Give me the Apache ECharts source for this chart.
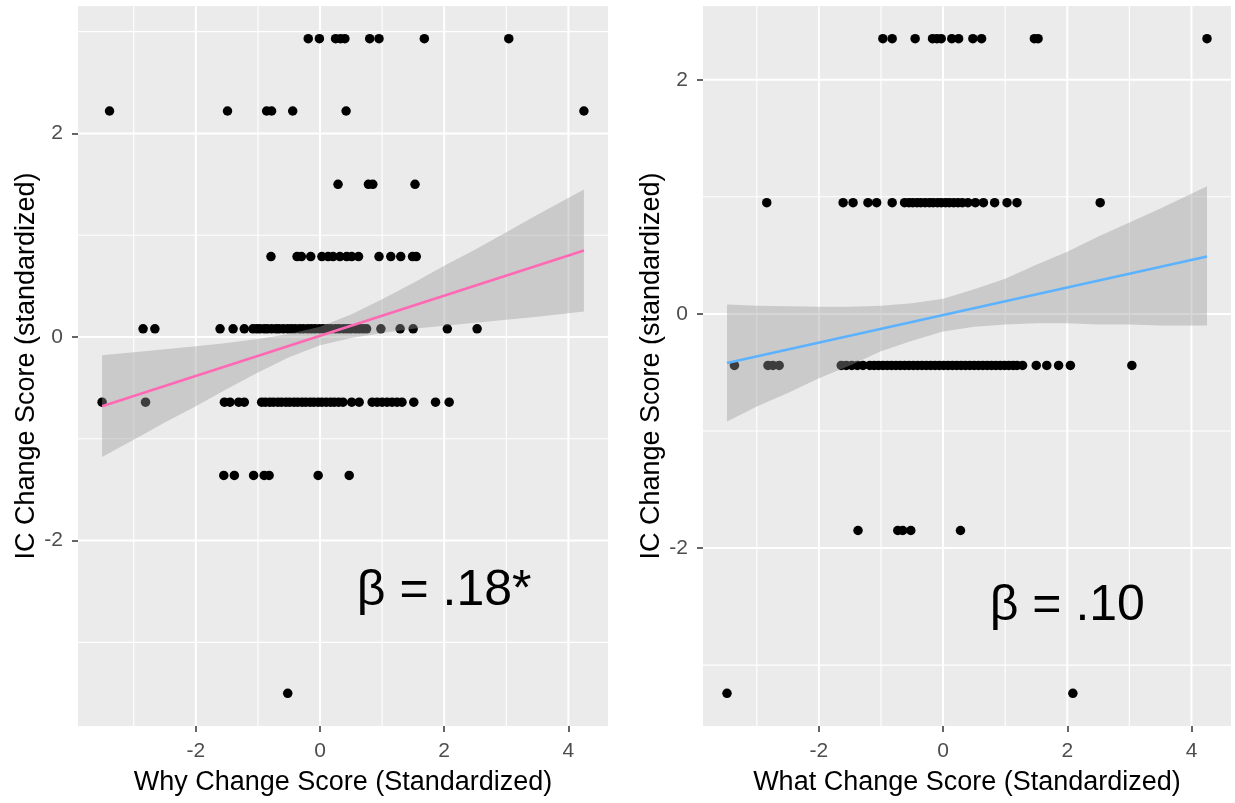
<!DOCTYPE html>
<html>
<head>
<meta charset="utf-8">
<script src="https://cdn.jsdelivr.net/npm/echarts@6/dist/echarts.min.js"></script>
<style>
  html, body { margin: 0; padding: 0; background: #ffffff; }
  #chart { width: 1235px; height: 803px; }
</style>
</head>
<body>
<div id="chart"></div>
<script>
// IC change score against the "why" and "what" change scores (all standardized),
// each panel with a linear fit and its 95% confidence band.

// ---- Left panel: Why Change Score ----
const whyLevels = [2.93, 2.22, 1.50, 0.79, 0.08, -0.64, -1.36, -3.50];
const whyXByLevel = [
  [-0.19, -0.01, 0.25, 0.33, 0.40, 0.80, 0.95, 1.68, 3.04],
  [-3.39, -1.49, -0.86, -0.78, -0.44, 0.42, 4.25],
  [0.29, 0.78, 0.85, 1.53],
  [-0.79, -0.37, -0.30, -0.15, 0.03, 0.13, 0.21, 0.32, 0.43, 0.51, 0.62, 0.95, 1.14, 1.30, 1.49, 1.55],
  [-2.85, -2.66, -1.61, -1.40, -1.22, -1.08, -1.02, -0.97, -0.90, -0.85, -0.78, -0.71, -0.66, -0.59, -0.52,
   -0.46, -0.40, -0.33, -0.27, -0.20, -0.14, -0.08, -0.01, 0.05, 0.12, 0.18, 0.25, 0.31, 0.38, 0.44, 0.50,
   0.57, 0.63, 0.69, 0.75, 0.98, 1.29, 1.50, 2.05, 2.53],
  [-3.51, -2.81, -1.54, -1.45, -1.31, -1.22, -0.94, -0.88, -0.81, -0.75, -0.68, -0.62, -0.55, -0.49, -0.42,
   -0.36, -0.29, -0.23, -0.16, -0.10, -0.03, 0.03, 0.10, 0.17, 0.23, 0.30, 0.37, 0.51, 0.63, 0.84, 0.92,
   1.00, 1.08, 1.16, 1.24, 1.32, 1.51, 1.86, 2.08],
  [-1.55, -1.38, -1.07, -0.90, -0.82, -0.03, 0.47],
  [-0.52]
];
const whyFitX = [-3.51, 4.25];
const whyFitY = [-0.68, 0.85];
const whyBandX = [-3.51, -3, -2.5, -2, -1.5, -1, -0.5, 0, 0.5, 1, 1.5, 2, 2.5, 3, 3.5, 4.25];
const whyBandUpper = [-0.18, -0.15, -0.12, -0.09, -0.06, -0.02, 0.03, 0.10, 0.22, 0.37, 0.53, 0.70, 0.86, 1.03, 1.20, 1.45];
const whyBandLower = [-1.18, -1.01, -0.84, -0.68, -0.51, -0.35, -0.20, -0.08, -0.01, 0.04, 0.08, 0.11, 0.14, 0.17, 0.20, 0.25];
const whyLabel = 'β = .18*';
const whyLabelAt = [2, -2.5];

// ---- Right panel: What Change Score ----
const whatLevels = [2.35, 0.95, -0.44, -1.85, -3.24];
const whatXByLevel = [
  [-0.97, -0.82, -0.45, -0.17, -0.10, -0.03, 0.14, 0.25, 0.48, 0.62, 1.47, 1.53, 4.25],
  [-2.84, -1.61, -1.45, -1.21, -1.07, -0.82, -0.62, -0.55, -0.49, -0.42, -0.36, -0.29, -0.22, -0.16, -0.09,
   -0.03, 0.04, 0.10, 0.17, 0.24, 0.31, 0.40, 0.52, 0.65, 0.83, 1.03, 1.19, 2.53],
  [-3.36, -2.82, -2.74, -2.64, -1.64, -1.56, -1.47, -1.38, -1.29, -1.18, -1.11, -1.04, -0.97, -0.90, -0.83,
   -0.76, -0.69, -0.62, -0.55, -0.48, -0.41, -0.34, -0.27, -0.20, -0.13, -0.06, 0.01, 0.08, 0.15, 0.22,
   0.29, 0.36, 0.43, 0.50, 0.57, 0.64, 0.71, 0.78, 0.85, 0.92, 0.99, 1.06, 1.13, 1.19, 1.28, 1.50, 1.67,
   1.86, 2.05, 3.04],
  [-1.37, -0.73, -0.65, -0.52, 0.28],
  [-3.48, 2.09]
];
const whatFitX = [-3.48, 4.25];
const whatFitY = [-0.42, 0.49];
const whatBandX = [-3.48, -3, -2.5, -2, -1.5, -1, -0.5, 0, 0.5, 1, 1.5, 2, 2.5, 3, 3.5, 4.25];
const whatBandUpper = [0.08, 0.07, 0.065, 0.06, 0.06, 0.07, 0.09, 0.13, 0.21, 0.30, 0.42, 0.53, 0.66, 0.78, 0.90, 1.09];
const whatBandLower = [-0.92, -0.79, -0.675, -0.55, -0.44, -0.32, -0.23, -0.15, -0.11, -0.09, -0.08, -0.08, -0.09, -0.09, -0.10, -0.10];
const whatLabel = 'β = .10';
const whatLabelAt = [2, -2.5];

// ---- Axis ticks and titles ----
const xMajorTicks = [-2, 0, 2, 4];
const xMinorTicks = [-3, -1, 1, 3];
const yMajorTicks = [-2, 0, 2];
const yMinorTicks = [-3, -1, 1, 3];
const whyXTitle = 'Why Change Score (Standardized)';
const whatXTitle = 'What Change Score (Standardized)';
const yTitle = 'IC Change Score (standardized)';

// ---- Styling ----
const FONT = '"Liberation Sans", Arial, sans-serif';
const PANEL_BG = '#EBEBEB';
const TICK_TEXT = '#4D4D4D';
const BAND_FILL = 'rgba(153,153,153,0.4)';
const WHY_LINE = '#FF69B4';
const WHAT_LINE = '#5CB2FF';

// Data range widened by 5% on each side (ggplot-style continuous scale)
function expandRange(values) {
  const lo = Math.min(...values), hi = Math.max(...values);
  const pad = (hi - lo) * 0.05;
  return [lo - pad, hi + pad];
}

function toPoints(levels, xByLevel) {
  const pts = [];
  levels.forEach((y, i) => xByLevel[i].forEach(x => pts.push([x, y])));
  return pts;
}

const whyPoints = toPoints(whyLevels, whyXByLevel);
const whatPoints = toPoints(whatLevels, whatXByLevel);
const whyXRange = expandRange(whyPoints.map(p => p[0]));
const whyYRange = expandRange(whyPoints.map(p => p[1]));
const whatXRange = expandRange(whatPoints.map(p => p[0]));
const whatYRange = expandRange(whatPoints.map(p => p[1]));

function inRange(ticks, r) { return ticks.filter(t => t >= r[0] && t <= r[1]); }

function xAxisFor(idx, range, title) {
  return {
    type: 'value', gridIndex: idx, min: range[0], max: range[1],
    name: title, nameLocation: 'middle', nameGap: 43,
    nameTextStyle: { fontFamily: FONT, fontSize: 27, color: '#000000' },
    axisLine: { show: false, onZero: false },
    axisTick: { show: true, length: 6, customValues: xMajorTicks, lineStyle: { color: '#333333', width: 1.5 } },
    axisLabel: { customValues: xMajorTicks, margin: 15, fontFamily: FONT, fontSize: 21, color: TICK_TEXT },
    splitLine: { show: false }
  };
}

function yAxisFor(idx, range) {
  return {
    type: 'value', gridIndex: idx, min: range[0], max: range[1],
    name: yTitle, nameLocation: 'middle', nameGap: 36, nameRotate: 90,
    nameTextStyle: { fontFamily: FONT, fontSize: 27, color: '#000000' },
    axisLine: { show: false, onZero: false },
    axisTick: { show: true, length: 6, customValues: yMajorTicks, lineStyle: { color: '#333333', width: 1.5 } },
    axisLabel: { customValues: yMajorTicks, margin: 15, fontFamily: FONT, fontSize: 21, color: TICK_TEXT },
    splitLine: { show: false }
  };
}

// White panel grid lines drawn through the axis scales
function gridLines(idx, xRange, yRange) {
  const items = [];
  inRange(xMinorTicks, xRange).forEach(v => items.push([v, yRange[0], 0, 1.1]));
  inRange(yMinorTicks, yRange).forEach(v => items.push([xRange[0], v, 1, 1.1]));
  inRange(xMajorTicks, xRange).forEach(v => items.push([v, yRange[0], 0, 2]));
  inRange(yMajorTicks, yRange).forEach(v => items.push([xRange[0], v, 1, 2]));
  return {
    type: 'custom', xAxisIndex: idx, yAxisIndex: idx, z: 1, silent: true,
    data: items,
    renderItem(params, api) {
      const cs = params.coordSys;
      const p = api.coord([api.value(0), api.value(1)]);
      const horizontal = api.value(2) === 1;
      const shape = horizontal
        ? { x1: cs.x, y1: p[1], x2: cs.x + cs.width, y2: p[1] }
        : { x1: p[0], y1: cs.y, x2: p[0], y2: cs.y + cs.height };
      return { type: 'line', shape, style: { stroke: '#FFFFFF', lineWidth: api.value(3) } };
    }
  };
}

function pointSeries(idx, pts) {
  return {
    type: 'scatter', xAxisIndex: idx, yAxisIndex: idx, z: 2, silent: true,
    symbol: 'circle', symbolSize: 9.5,
    itemStyle: { color: '#000000', opacity: 1 },
    data: pts
  };
}

function bandSeries(idx, bx, upper, lower) {
  return {
    type: 'custom', xAxisIndex: idx, yAxisIndex: idx, z: 3, silent: true,
    data: [[bx[0], upper[0]]],
    renderItem(params, api) {
      const pts = [];
      for (let i = 0; i < bx.length; i++) pts.push(api.coord([bx[i], upper[i]]));
      for (let i = bx.length - 1; i >= 0; i--) pts.push(api.coord([bx[i], lower[i]]));
      return { type: 'polygon', shape: { points: pts }, style: { fill: BAND_FILL, stroke: null } };
    }
  };
}

function fitSeries(idx, fx, fy, color) {
  return {
    type: 'line', xAxisIndex: idx, yAxisIndex: idx, z: 4, silent: true,
    showSymbol: false, symbol: 'none',
    lineStyle: { color, width: 2.6 },
    data: fx.map((x, i) => [x, fy[i]])
  };
}

function labelSeries(idx, at, text) {
  return {
    type: 'custom', xAxisIndex: idx, yAxisIndex: idx, z: 5, silent: true,
    data: [at],
    renderItem(params, api) {
      const p = api.coord([api.value(0), api.value(1)]);
      return {
        type: 'text', x: p[0], y: p[1],
        style: { text, fontFamily: FONT, fontSize: 50, fill: '#000000', align: 'center', verticalAlign: 'middle' }
      };
    }
  };
}

const chart = echarts.init(document.getElementById('chart'), null, { renderer: 'canvas' });
chart.setOption({
  backgroundColor: '#FFFFFF',
  animation: false,
  grid: [
    { left: 78, top: 6, width: 530, height: 720, show: true, backgroundColor: PANEL_BG, borderWidth: 0 },
    { left: 703, top: 6, width: 528, height: 720, show: true, backgroundColor: PANEL_BG, borderWidth: 0 }
  ],
  xAxis: [xAxisFor(0, whyXRange, whyXTitle), xAxisFor(1, whatXRange, whatXTitle)],
  yAxis: [yAxisFor(0, whyYRange), yAxisFor(1, whatYRange)],
  series: [
    gridLines(0, whyXRange, whyYRange),
    pointSeries(0, whyPoints),
    bandSeries(0, whyBandX, whyBandUpper, whyBandLower),
    fitSeries(0, whyFitX, whyFitY, WHY_LINE),
    labelSeries(0, whyLabelAt, whyLabel),
    gridLines(1, whatXRange, whatYRange),
    pointSeries(1, whatPoints),
    bandSeries(1, whatBandX, whatBandUpper, whatBandLower),
    fitSeries(1, whatFitX, whatFitY, WHAT_LINE),
    labelSeries(1, whatLabelAt, whatLabel)
  ]
});
</script>
</body>
</html>
